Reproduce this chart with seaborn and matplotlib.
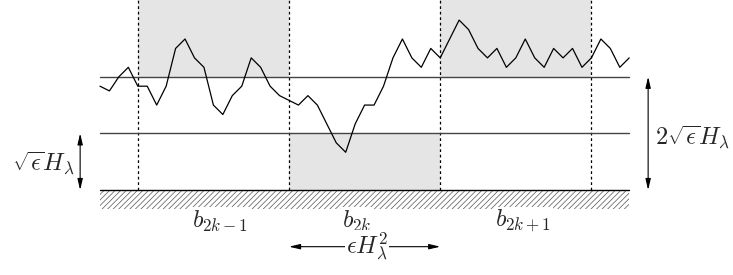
import matplotlib
matplotlib.use("Agg")
import matplotlib.pyplot as plt
import seaborn as sns
import numpy as np
import pandas as pd

# random-walk path heights (units of one lattice step)
walk = [11, 10.5, 12, 13, 11, 11, 9, 11, 15, 16, 14, 13, 9, 8, 10, 11, 14, 13, 11, 10,
        9.5, 9, 10, 9, 7, 5, 4, 7, 9, 9, 11, 14, 16, 14, 13, 15, 14, 16, 18, 17,
        15, 14, 15, 13, 14, 16, 14, 13, 15, 14, 15, 13, 14, 16, 15, 13, 14]
block_edges = [4, 20, 36, 52]
levels = [6, 12]
block_labels = [r"$b_{2k-1}$", r"$b_{2k}$", r"$b_{2k+1}$"]
block_label_x = [12.7, 27.2, 44.8]

sns.set_theme(style="white")
plt.rcParams["mathtext.fontset"] = "cm"
plt.rcParams["hatch.linewidth"] = 0.5
plt.rcParams["hatch.color"] = "#555555"

fig = plt.figure(figsize=(7.33, 2.75), dpi=100)
ax = fig.add_axes([0, 0, 1, 1])
xmin, xmax = -10.58, 66.98
ymin, ymax = -9.0, 20.13

# shaded blocks
ax.fill_between([block_edges[0], block_edges[1]], levels[1], ymax + 1, color="#e5e5e5", lw=0, zorder=0)
ax.fill_between([block_edges[1], block_edges[2]], 0, levels[0], color="#e5e5e5", lw=0, zorder=0)
ax.fill_between([block_edges[2], block_edges[3]], levels[1], ymax + 1, color="#e5e5e5", lw=0, zorder=0)

n = len(walk) - 1
# hatched ground
ax.fill_between([0, n], -2, 0, facecolor="none", edgecolor="#555555", hatch="//////", lw=0, zorder=1)
ax.plot([0, n], [0, 0], color="black", lw=1.0, zorder=3)

# horizontal levels
for lv in levels:
    ax.plot([0, n], [lv, lv], color="#444444", lw=1.0, zorder=3)

# dotted verticals
for bx in block_edges:
    ax.plot([bx, bx], [0, ymax + 1], color="black", lw=0.9, ls=(0, (2.2, 2.2)), zorder=2)

# the walk
df = pd.DataFrame({"x": np.arange(len(walk)), "h": walk})
sns.lineplot(data=df, x="x", y="h", ax=ax, color="black", lw=0.9, zorder=4)
ax.axis("off")
ax.set_xlim(xmin, xmax)
ax.set_ylim(ymin, ymax)

fs = 17.5
for lbl, lx in zip(block_labels, block_label_x):
    ax.text(lx, -3.3, lbl, ha="center", va="center", fontsize=fs,
            bbox=dict(facecolor="white", edgecolor="none", pad=1.0), zorder=5)

arrow_kw = dict(arrowstyle="<|-|>,head_length=0.55,head_width=0.13", color="black", lw=0.8,
                shrinkA=0, shrinkB=0)
# horizontal arrow
ax.annotate("", xy=(block_edges[1], -6), xytext=(block_edges[2], -6), arrowprops=arrow_kw, zorder=4)
ax.text(28.3, -6, r"$\epsilon H_\lambda^2$", ha="center", va="center", fontsize=fs,
        bbox=dict(facecolor="white", edgecolor="none", pad=0.5), zorder=5)

# left vertical arrow
ax.annotate("", xy=(-2.1, levels[0]), xytext=(-2.1, 0), arrowprops=arrow_kw, zorder=4)
ax.text(-2.65, 2.8, r"$\sqrt{\epsilon}H_\lambda$", ha="right", va="center", fontsize=fs)

# right vertical arrow
ax.annotate("", xy=(58, levels[1]), xytext=(58, 0), arrowprops=arrow_kw, zorder=4)
ax.text(58.7, 5.6, r"$2\sqrt{\epsilon}H_\lambda$", ha="left", va="center", fontsize=fs)

fig.savefig("out.png", dpi=100)
